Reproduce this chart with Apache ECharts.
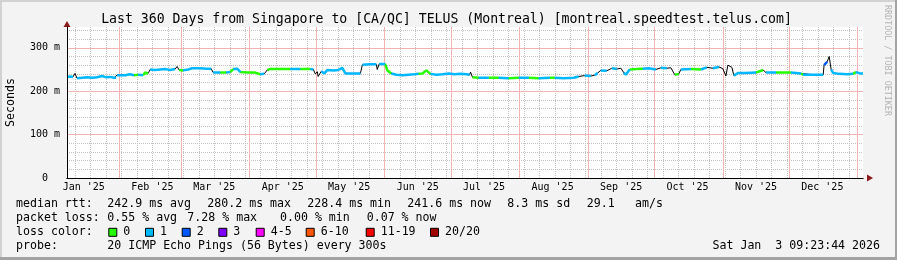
<!DOCTYPE html>
<html><head><meta charset="utf-8">
<script src="https://cdn.jsdelivr.net/npm/echarts@6/dist/echarts.min.js"></script>
<style>html,body{margin:0;padding:0;background:#f3f3f3}#c{width:897px;height:260px}</style>
</head><body><div id="c"></div><script>
// ---------------- DATA ----------------
const title = "Last 360 Days from Singapore to [CA/QC] TELUS (Montreal) [montreal.speedtest.telus.com]";
const START = new Date(2025, 0, 8, 9, 23, 44).getTime();
const END = new Date(2026, 0, 3, 9, 23, 44).getTime();
const DAY = 86400000;

const monthLabels = ["Jan '25","Feb '25","Mar '25","Apr '25","May '25","Jun '25","Jul '25","Aug '25","Sep '25","Oct '25","Nov '25","Dec '25"];
const yTickLabels = {0: "0  ", 100: "100 m", 200: "200 m", 300: "300 m"};

// days since start
const days = [0,1.4,2.7,3.6,4.5,6.8,9.1,11.3,13.6,15.9,17.7,19.5,21.3,22.2,22.6,26.3,28.5,30.3,32.2,34.4,
  35.3,36.7,37.6,39.9,42.1,44.4,46.6,48.9,49.8,50.7,52.5,54.8,56.6,60.2,63.0,65.2,66.1,69.3,72.0,73.8,
  75.2,77.0,78.4,81.9,85.1,87.4,89.2,90.6,91.9,96.5,101.0,105.5,110.1,111.4,112.3,113.2,113.6,115.0,116.4,117.8,
  120.5,122.7,124.5,125.9,129.1,132.7,133.6,137.2,139.9,140.3,141.2,143.9,144.9,146.7,149.0,151.7,154.4,157.2,159.0,160.8,
  162.5,164.4,167.1,169.8,172.6,175.3,178.0,180.7,182.1,182.5,183.4,186.1,190.7,195.2,199.7,204.3,208.8,213.3,218.3,219.2,
  220.6,224.6,229.2,231.4,234.1,236.9,238.7,240.0,241.4,244.1,246.4,248.6,250.5,251.8,252.7,254.5,257.7,260.4,263.1,266.3,
  268.6,271.3,273.1,274.9,276.7,277.6,282.2,286.7,289.4,292.1,294.8,296.6,298.0,298.9,300.7,301.6,303.4,307.1,311.6,314.8,
  316.1,320.7,327.4,332.0,332.9,337.5,342.0,342.4,343.8,344.7,345.6,346.5,349.2,352.8,355.5,356.8,358.7,360];
// median rtt in ms
const medianRtt = [233,234,233,241,230,231,232,231,232,235,232,233,231,231,237,237,239,237,238,237,
  243,241,250,249,250,251,249,251,257,249,248,250,253,253,252,252,243,243,243,244,
  251,252,244,243,243,239,240,249,251,251,251,251,251,250,240,245,234,246,241,249,
  248,249,254,241,241,241,261,262,262,250,263,263,248,241,238,237,238,239,240,241,
  248,240,238,239,241,239,240,239,238,244,232,231,231,231,230,231,231,230,231,235,
  231,230,231,234,236,235,237,242,248,247,253,251,253,243,238,250,251,252,253,250,
  254,253,254,238,240,250,251,250,255,253,256,252,235,260,255,236,242,242,243,249,
  243,243,243,241,238,238,238,260,268,280,250,242,240,239,240,244,241,241];
// loss bucket index of segment starting at each point (-1: no colour drawn)
const lossBucket = [1,1,-1,-1,1,1,1,1,1,1,1,1,1,-1,1,1,1,0,1,0,
  0,-1,1,1,1,1,1,-1,-1,0,1,1,1,1,1,-1,1,0,1,0,
  1,1,0,0,0,1,-1,0,0,0,1,0,1,-1,-1,-1,-1,1,1,1,
  1,1,1,1,1,-1,1,1,-1,-1,1,0,0,1,1,1,1,1,0,0,
  0,1,1,1,1,1,1,1,-1,-1,0,1,0,1,0,1,0,1,0,0,
  1,1,1,-1,1,-1,1,-1,1,-1,1,-1,-1,1,1,0,0,1,1,-1,
  1,-1,-1,0,-1,1,0,1,-1,1,-1,-1,-1,-1,-1,1,1,1,0,-1,
  1,0,1,0,1,1,-1,2,-1,-1,1,1,1,1,0,1,1,1];

// smoke (spread of pings)
const smokeDays = [236.9,240.0,241.4,246.4,250.5,251.8,252.7,254.5,263.1,273.1,274.9,277.6,289.4,293.0,293.9,296.6,
  298.0,300.7,301.6,303.4,314.8,327.4,332.0,332.9,342.0,342.9,343.8,345.1,346.5,352.8,360];
const smokeLow  = [233,236,244,247,248,240,236,247,249,250,236,247,250,252,252,249,233,250,234,240,240,240,239,236,236,245,250,245,238,237,238];
const smokeHigh = [238,246,254,257,257,250,246,256,258,258,252,256,262,285,262,260,255,262,250,254,258,255,253,250,250,290,302,285,256,247,247];

const lossLabels = ["0","1","2","3","4-5","6-10","11-19","20/20"];
const lossColors = ["#26ff00","#00b8ff","#0059ff","#7e00ff","#ff00ff","#ff5500","#ff0000","#a10000"];

const statRows = [
  [["median rtt:",16],["242.9 ms avg",107.3],["280.2 ms max",207.3],["228.4 ms min",307.3],["241.6 ms now",407.3],["8.3 ms sd",507.3],["29.1",586.7],["am/s",635]],
  [["packet loss:",16],["0.55 % avg",107.3],["7.28 % max",187.3],["0.00 % min",280],["0.07 % now",366.7]],
  [["loss color:",16]],
  [["probe:",16],["20 ICMP Echo Pings (56 Bytes) every 300s",107.3]]
];
const stampText = "Sat Jan  3 09:23:44 2026";
const sideText = "RRDTOOL / TOBI OETIKER";

// ---------------- LAYOUT ----------------
const MONO = '"DejaVu Sans Mono", monospace';
const rowY = [204.3, 218.3, 232.3, 246];
const lossLegendX = [123.3, 160, 196.7, 233.3, 270.7, 320.7, 380.7, 445];
const MAJOR = '#f3b3b3';
const MINOR = '#c2c2c2';

const monthStarts = []; for (let m = 1; m <= 12; m++) monthStarts.push(new Date(2025, m, 1).getTime());
const monthMids = []; for (let m = 0; m < 12; m++) monthMids.push(new Date(2025, m, 16).getTime());
const sundays = []; for (let k = 0; ; k++) { const t = new Date(2025, 0, 12 + 7 * k).getTime(); if (t > END) break; sundays.push(t); }

const T = days.map(d => START + d * DAY);
const series = [];
series.push({type:'line', xAxisIndex:0, yAxisIndex:1, stack:'smoke', symbol:'none', silent:true, z:1,
  data: smokeDays.map((d,i)=>[START + d*DAY, smokeLow[i]]), lineStyle:{width:0, opacity:0}});
series.push({type:'line', xAxisIndex:0, yAxisIndex:1, stack:'smoke', symbol:'none', silent:true, z:1,
  data: smokeDays.map((d,i)=>[START + d*DAY, smokeHigh[i]-smokeLow[i]]), lineStyle:{width:0, opacity:0},
  areaStyle:{color:'#d5d5d5', opacity:1}});
series.push({type:'line', xAxisIndex:0, yAxisIndex:1, symbol:'none', silent:true, z:3,
  data: T.map((t,i)=>[t, medianRtt[i]]), lineStyle:{color:'#000', width:1}});
for (let c = 0; c < lossColors.length; c++) {
  const data = [];
  for (let i = 0; i < T.length - 1; i++) {
    if (lossBucket[i] !== c) continue;
    if (i === 0 || lossBucket[i-1] !== c) {
      if (data.length) data.push([T[i], null]);
      data.push([T[i], medianRtt[i]]);
    }
    data.push([T[i+1], medianRtt[i+1]]);
  }
  series.push({type:'line', name: lossLabels[c], xAxisIndex:0, yAxisIndex:1, symbol:'none', silent:true, z:4,
    connectNulls:false, data, lineStyle:{color: lossColors[c], width:2.5}});
}

const xBase = {type:'value', min:START, max:END, position:'bottom', gridIndex:0, scale:true};
const yBase = {type:'value', min:0, max:348, position:'left', gridIndex:0};

const graphics = [
  {type:'rect', shape:{x:0,y:0,width:897,height:2}, style:{fill:'#d2d2d2'}, silent:true},
  {type:'rect', shape:{x:0,y:0,width:2,height:260}, style:{fill:'#d2d2d2'}, silent:true},
  {type:'rect', shape:{x:0,y:257,width:897,height:3}, style:{fill:'#a3a3a3'}, silent:true},
  {type:'rect', shape:{x:895,y:0,width:2,height:260}, style:{fill:'#a3a3a3'}, silent:true},
  {type:'text', x:446.5, y:19.3, silent:true, style:{text:title, font:'13.2px ' + MONO, fill:'#000', textAlign:'center', textVerticalAlign:'middle'}},
  {type:'text', x:887, y:5, rotation:-Math.PI/2, silent:true, style:{text:sideText, font:'8.4px ' + MONO, fill:'#b4b4b4', textAlign:'left', textVerticalAlign:'middle'}},
  {type:'text', x:880, y:rowY[3], silent:true, style:{text:stampText, font:'11.6px ' + MONO, fill:'#000', textAlign:'right', textVerticalAlign:'middle'}}
];
statRows.forEach((row, r) => row.forEach(([txt, x]) => graphics.push(
  {type:'text', x, y:rowY[r], silent:true, style:{text:txt, font:'11.6px ' + MONO, fill:'#000', textAlign:'left', textVerticalAlign:'middle'}})));
lossLabels.forEach((lab, i) => {
  graphics.push({type:'rect', silent:true, shape:{x:lossLegendX[i]-14.5, y:rowY[2]-4, width:8, height:8},
    style:{fill:lossColors[i], stroke:'#000', lineWidth:1}});
  graphics.push({type:'text', x:lossLegendX[i], y:rowY[2], silent:true,
    style:{text:lab, font:'11.6px ' + MONO, fill:'#000', textAlign:'left', textVerticalAlign:'middle'}});
});

function gridAxis(base, extra) {
  return Object.assign({}, base, {
    axisLine:{show:false}, axisLabel:{show:false}, axisTick:{show:false}, splitLine:{show:false}
  }, extra);
}

const option = {
  animation:false,
  backgroundColor:'#f3f3f3',
  grid:{left:67, right:34, top:27, bottom:82, show:true, backgroundColor:'#ffffff', borderWidth:0, containLabel:false, outerBoundsMode:'none'},
  xAxis:[
    gridAxis(xBase, {z:1, axisTick:{show:false, customValues:sundays},
      splitLine:{show:true, lineStyle:{color:MINOR, width:1, type:[1,1]}}}),
    gridAxis(xBase, {z:2, axisTick:{show:false, customValues:monthStarts},
      splitLine:{show:true, lineStyle:{color:MAJOR, width:1, type:'solid'}}}),
    gridAxis(xBase, {z:4,
      axisLine:{show:true, onZero:false, lineStyle:{color:'#8b1a1a', width:1}, symbol:['none','triangle'], symbolSize:[7,6], symbolOffset:[0,7]},
      axisLabel:{show:true, customValues:monthMids, margin:4, fontFamily:MONO, fontSize:10, color:'#000',
        formatter:(v)=>monthLabels[new Date(v).getMonth()]}}),
    gridAxis(xBase, {z:5, axisLine:{show:true, onZero:false, lineStyle:{color:'#000', width:1}}})
  ],
  yAxis:[
    gridAxis(yBase, {interval:20, z:1,
      splitLine:{show:true, showMaxLine:false, lineStyle:{color:MINOR, width:1, type:[1,1]}}}),
    gridAxis(yBase, {interval:100, z:4,
      splitLine:{show:true, showMaxLine:false, lineStyle:{color:MAJOR, width:1, type:'solid'}},
      axisLine:{show:true, onZero:false, lineStyle:{color:'#8b1a1a', width:1}, symbol:['none','triangle'], symbolSize:[7,6], symbolOffset:[0,3]},
      axisLabel:{show:true, showMaxLabel:false, margin:7, fontFamily:MONO, fontSize:10, color:'#000',
        formatter:(v)=>yTickLabels[v] !== undefined ? yTickLabels[v] : ''},
      name:'Seconds', nameLocation:'middle', nameRotate:90, nameGap:50,
      nameTextStyle:{fontFamily:MONO, fontSize:11.6, color:'#000'}}),
    gridAxis(yBase, {z:5, axisLine:{show:true, onZero:false, lineStyle:{color:'#000', width:1}}})
  ],
  series,
  graphic:{elements:graphics}
};
const chart = echarts.init(document.getElementById('c'), null, {renderer:'canvas'});
chart.setOption(option);
</script></body></html>
